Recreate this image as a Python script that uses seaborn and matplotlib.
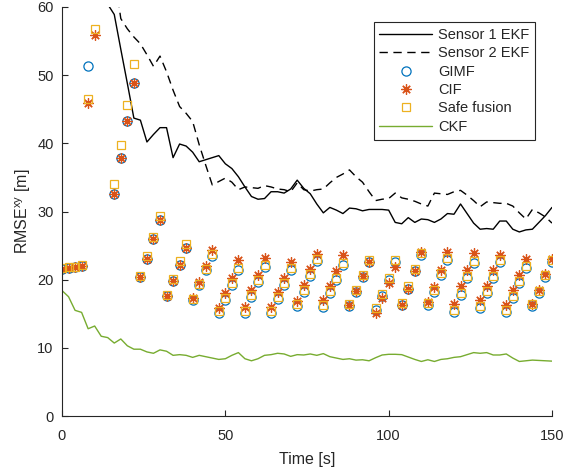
import numpy as np
import pandas as pd
import matplotlib
matplotlib.use("Agg")
import matplotlib.pyplot as plt
import seaborn as sns

# ---------------- data ----------------
time_s = list(range(0, 151, 2))

sensor1_ekf = [98, 94, 89, 83, 77, 70, 65, 60.4, 58.9, 53.8, 48.8, 43.7, 43.4, 40.2, 41.3,
               42.3, 42.3, 37.9, 39.9, 39.6, 38.7, 37.3, 37.6, 37.9, 38.2, 37.0, 36.3,
               35.1, 33.6, 32.2, 31.8, 31.9, 32.9, 32.9, 32.7, 33.3, 34.6, 33.4, 32.6,
               31.1, 29.8, 30.6, 30.2, 29.7, 30.5, 30.4, 30.1, 30.3, 30.3, 30.3, 30.2,
               28.4, 28.2, 29.1, 28.4, 28.9, 28.8, 28.4, 28.9, 29.7, 29.6, 31.1, 29.7,
               28.3, 27.4, 27.5, 27.4, 28.6, 28.6, 27.4, 27.0, 27.3, 27.4, 28.4, 29.4,
               30.6]

sensor2_ekf = [110, 105, 100, 95, 90, 84, 78, 72, 65, 58.3, 56.8, 55.6, 54.6, 53.0, 51.3,
               52.8, 50.5, 47.8, 45.4, 44.4, 43.2, 39.8, 36.8, 33.9, 34.4, 34.9, 34.3,
               33.2, 33.6, 33.5, 33.4, 33.8, 33.6, 33.3, 33.2, 32.9, 34.2, 33.2, 33.0,
               33.2, 33.3, 34.2, 35.0, 35.5, 36.1, 35.1, 34.3, 32.9, 31.6, 31.8, 31.9,
               32.7, 32.0, 31.8, 31.5, 31.1, 30.8, 32.7, 32.6, 32.5, 32.9, 33.1, 32.4,
               31.6, 30.7, 31.4, 31.3, 31.2, 31.2, 30.8, 29.8, 28.9, 30.3, 29.8, 29.2,
               28.3]

gimf = [21.6, 21.7, 21.8, 22.0, 51.4, 63.0, 66.0, 70.0, 32.6, 37.8, 43.3, 48.8,
        20.4, 23.0, 25.9, 28.7, 17.6, 19.8, 22.1, 24.6, 17.0, 19.2, 21.4, 23.5,
        15.1, 17.0, 19.2, 21.4, 15.1, 17.4, 19.7, 21.8, 15.1, 17.1, 19.2, 21.4,
        16.1, 18.2, 20.5, 22.8, 16.0, 18.0, 20.0, 22.1, 16.1, 18.2, 20.4, 22.6,
        15.5, 17.6, 20.0, 22.6, 16.3, 18.7, 21.3, 23.6, 16.3, 18.2, 20.7, 22.9,
        15.3, 17.7, 20.2, 22.5, 15.8, 18.1, 20.2, 22.6, 15.3, 17.3, 19.5, 21.7,
        16.1, 18.0, 20.4, 22.6]

cif = [21.6, 21.7, 21.8, 22.0, 45.9, 55.9, 66.0, 70.0, 32.6, 37.8, 43.3, 48.8,
       20.4, 23.0, 25.9, 28.7, 17.6, 19.8, 22.1, 24.6, 17.3, 19.6, 22.0, 24.4,
       15.9, 18.0, 20.3, 22.9, 16.0, 18.5, 20.7, 23.2, 16.0, 18.2, 20.2, 22.6,
       16.8, 19.2, 21.5, 23.8, 17.0, 19.1, 21.3, 23.6, 16.3, 18.3, 20.5, 22.6,
       15.1, 17.3, 19.5, 21.8, 16.3, 18.7, 21.3, 24.0, 16.7, 18.9, 21.4, 24.1,
       16.5, 19.0, 21.4, 23.9, 17.0, 19.1, 21.4, 23.6, 16.3, 18.5, 20.7, 23.1,
       16.4, 18.5, 20.9, 23.1]

safe_fusion = [21.7, 21.8, 21.9, 22.1, 46.5, 56.7, 66.0, 70.0, 34.0, 39.8, 45.6, 51.6,
               20.6, 23.5, 26.3, 29.3, 17.8, 20.1, 22.8, 25.2, 17.2, 19.4, 21.6, 23.8,
               15.4, 17.3, 19.5, 21.7, 15.4, 17.7, 20.0, 22.1, 15.4, 17.4, 19.5, 21.7,
               16.4, 18.5, 20.8, 23.1, 16.3, 18.3, 20.3, 22.4, 16.4, 18.5, 20.7, 22.9,
               15.8, 17.9, 20.3, 22.9, 16.6, 19.0, 21.6, 23.9, 16.6, 18.5, 21.0, 23.2,
               15.6, 18.0, 20.5, 22.8, 16.1, 18.4, 20.5, 22.9, 15.6, 17.6, 19.8, 22.0,
               16.4, 18.3, 20.7, 22.9]

ckf = [18.4, 17.5, 15.5, 15.2, 12.8, 13.2, 11.7, 11.5, 10.7, 11.3, 10.3, 9.8, 9.8,
       9.4, 9.2, 9.7, 9.5, 8.9, 9.0, 8.9, 8.6, 8.9, 8.7, 8.5, 8.3, 8.4, 8.9, 9.3,
       8.4, 8.1, 8.4, 8.9, 9.0, 9.2, 9.1, 8.75, 9.0, 8.95, 9.1, 8.9, 9.15, 8.7, 8.5,
       8.3, 8.4, 8.2, 8.25, 8.1, 8.55, 8.95, 9.05, 9.05, 9.0, 8.65, 8.3, 8.0, 8.25,
       8.0, 8.3, 8.4, 8.6, 8.7, 9.0, 9.3, 9.2, 9.3, 8.95, 8.95, 9.1, 8.5, 8.0, 8.1,
       8.2, 8.15, 8.1, 8.05]

x_ticks = [0, 50, 100, 150]
y_ticks = [0, 10, 20, 30, 40, 50, 60]

df = pd.DataFrame({"t": time_s, "s1": sensor1_ekf, "s2": sensor2_ekf, "gimf": gimf,
                   "cif": cif, "safe": safe_fusion, "ckf": ckf})

# ---------------- style ----------------
sns.set_theme(style="ticks")
plt.rcParams["font.family"] = ["Liberation Sans", "DejaVu Sans"]
plt.rcParams["axes.edgecolor"] = "#262626"
plt.rcParams["xtick.color"] = "#262626"
plt.rcParams["ytick.color"] = "#262626"

fig = plt.figure(figsize=(5.79, 4.70), dpi=100)
ax = fig.add_axes([62 / 579, 54 / 470, 490 / 579, 409 / 470])

sns.lineplot(data=df, x="t", y="s1", ax=ax, color="black", lw=1.0,
             label="Sensor 1 EKF")
sns.lineplot(data=df, x="t", y="s2", ax=ax, color="black", lw=1.0,
             dashes=False, label="Sensor 2 EKF")
ax.lines[-1].set_dashes((6, 4))
sns.lineplot(data=df, x="t", y="gimf", ax=ax, linestyle="", marker="o",
             markersize=6.6, markerfacecolor="none", markeredgecolor="#0072BD",
             markeredgewidth=0.9, label="GIMF")
sns.lineplot(data=df, x="t", y="cif", ax=ax, linestyle="", marker=(8, 2, 0),
             markersize=7.4, color="#D95319", markeredgecolor="#D95319",
             markeredgewidth=0.9, label="CIF")
sns.lineplot(data=df, x="t", y="safe", ax=ax, linestyle="", marker="s",
             markersize=5.8, markerfacecolor="none", markeredgecolor="#EDB120",
             markeredgewidth=0.9, label="Safe fusion")
sns.lineplot(data=df, x="t", y="ckf", ax=ax, color="#77AC30", lw=1.0, label="CKF")

ax.set_xlim(0, 150)
ax.set_ylim(0, 60)
ax.set_xticks(x_ticks)
ax.set_yticks(y_ticks)
ax.tick_params(direction="in", length=4, width=0.8, labelsize=10.5)
ax.tick_params(axis="x", pad=9)
ax.tick_params(axis="y", pad=6)
sns.despine(ax=ax)
for s in ["left", "bottom"]:
    ax.spines[s].set_linewidth(0.8)

ax.set_xlabel("Time [s]", fontsize=11.5, labelpad=7)
ax.set_ylabel("RMSE$^{\\mathregular{xy}}$ [m]", fontsize=11.5, labelpad=3)

leg = ax.legend(loc="upper right", bbox_to_anchor=(0.965, 0.963), borderaxespad=0,
                fontsize=10.5, handlelength=3.6, handletextpad=0.4,
                labelspacing=0.3, borderpad=0.4, numpoints=1, fancybox=False,
                framealpha=1, edgecolor="#262626")
leg.get_frame().set_linewidth(0.8)

fig.savefig("out.png", dpi=100)
